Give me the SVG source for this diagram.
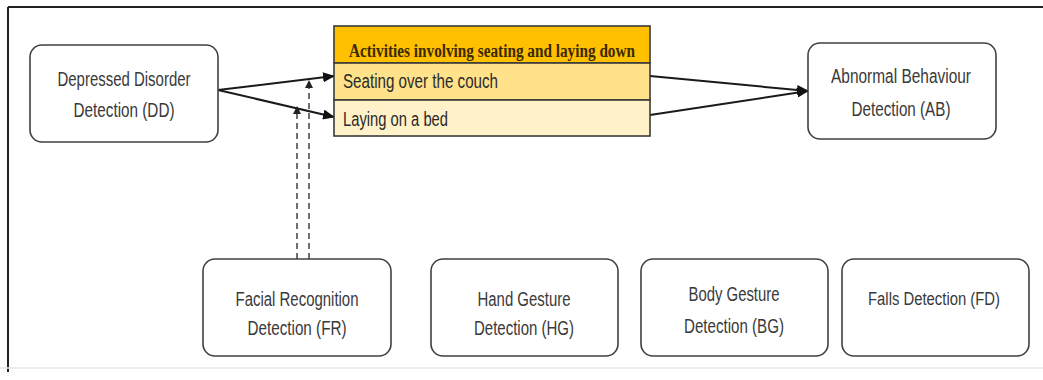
<svg xmlns="http://www.w3.org/2000/svg" width="1043" height="380" viewBox="0 0 1043 380">
<style>
.node{fill:#fff;stroke:#404040;stroke-width:1.6}
.t{font-family:"Liberation Sans",Arial,sans-serif;font-size:20px;fill:#3a3a3a;text-anchor:middle}
.tl{font-family:"Liberation Sans",Arial,sans-serif;font-size:20px;fill:#2a2a2a}
.hdr{font-family:"Liberation Serif","Times New Roman",serif;font-size:18px;font-weight:bold;fill:#3a2a00}
.conn{stroke:#1a1a1a;stroke-width:2;fill:none}
.dash{stroke:#333;stroke-width:1.4;fill:none;stroke-dasharray:6,4}
.frame{stroke:#222;stroke-width:2;fill:none}
</style>
<defs>
<marker id="ah" markerWidth="12" markerHeight="10" refX="11" refY="5" orient="auto" markerUnits="userSpaceOnUse">
<path d="M0,0 L12,5 L0,10 Z" fill="#111"/>
</marker>
<marker id="ahs" markerWidth="8" markerHeight="8" refX="7" refY="4" orient="auto" markerUnits="userSpaceOnUse">
<path d="M0,0 L8,4 L0,8 Z" fill="#222"/>
</marker>
</defs>
<rect width="1043" height="380" fill="#fff"/>
<g id="frame">
<line class="frame" x1="8" y1="7" x2="1043" y2="7"/>
<line class="frame" x1="8" y1="7" x2="8" y2="372"/>
<line x1="0" y1="368" x2="1043" y2="368" stroke="#e6e6e6" stroke-width="1.5"/>
</g>
<g id="connectors">
<line class="conn" x1="218" y1="90" x2="334" y2="76" marker-end="url(#ah)"/>
<line class="conn" x1="218" y1="90" x2="334" y2="117" marker-end="url(#ah)"/>
<line class="conn" x1="650" y1="76" x2="808" y2="91" marker-end="url(#ah)"/>
<line class="conn" x1="650" y1="115" x2="808" y2="91" marker-end="url(#ah)"/>
<line class="dash" x1="297" y1="259" x2="297" y2="107" marker-end="url(#ahs)"/>
<line class="dash" x1="309" y1="259" x2="309" y2="81" marker-end="url(#ahs)"/>
</g>
<g id="DD">
<rect class="node" x="30" y="45" width="188" height="97" rx="12"/>
<text class="t" x="124" y="86" textLength="133" lengthAdjust="spacingAndGlyphs">Depressed Disorder</text>
<text class="t" x="124" y="117" textLength="101" lengthAdjust="spacingAndGlyphs">Detection (DD)</text>
</g>
<g id="activities">
<rect x="334" y="26" width="316" height="37" fill="#FFC000" stroke="#3a3a3a" stroke-width="1.6"/>
<rect x="334" y="63" width="316" height="37" fill="#FFE28A" stroke="#3a3a3a" stroke-width="1.6"/>
<rect x="334" y="100" width="316" height="36" fill="#FFF1C8" stroke="#3a3a3a" stroke-width="1.6"/>
<text class="hdr" x="349" y="57" textLength="286" lengthAdjust="spacingAndGlyphs">Activities involving seating and laying down</text>
<text class="tl" x="343" y="88" textLength="155" lengthAdjust="spacingAndGlyphs">Seating over the couch</text>
<text class="tl" x="343" y="126" textLength="105" lengthAdjust="spacingAndGlyphs">Laying on a bed</text>
</g>
<g id="AB">
<rect class="node" x="808" y="43" width="188" height="96" rx="12"/>
<text class="t" x="901" y="83" textLength="140" lengthAdjust="spacingAndGlyphs">Abnormal Behaviour</text>
<text class="t" x="901" y="116" textLength="99" lengthAdjust="spacingAndGlyphs">Detection (AB)</text>
</g>
<g id="FR">
<rect class="node" x="203" y="259" width="188" height="97" rx="12"/>
<text class="t" x="297" y="306" textLength="123" lengthAdjust="spacingAndGlyphs">Facial Recognition</text>
<text class="t" x="297" y="335" textLength="99" lengthAdjust="spacingAndGlyphs">Detection (FR)</text>
</g>
<g id="HG">
<rect class="node" x="431" y="259" width="187" height="97" rx="12"/>
<text class="t" x="524" y="306" textLength="93" lengthAdjust="spacingAndGlyphs">Hand Gesture</text>
<text class="t" x="524" y="335" textLength="100" lengthAdjust="spacingAndGlyphs">Detection (HG)</text>
</g>
<g id="BG">
<rect class="node" x="641" y="259" width="187" height="97" rx="12"/>
<text class="t" x="734" y="301" textLength="91" lengthAdjust="spacingAndGlyphs">Body Gesture</text>
<text class="t" x="734" y="333" textLength="100" lengthAdjust="spacingAndGlyphs">Detection (BG)</text>
</g>
<g id="FD">
<rect class="node" x="842" y="259" width="187" height="97" rx="12"/>
<text class="t" x="934" y="305" style="font-size:18px" textLength="132" lengthAdjust="spacingAndGlyphs">Falls Detection (FD)</text>
</g>
</svg>
